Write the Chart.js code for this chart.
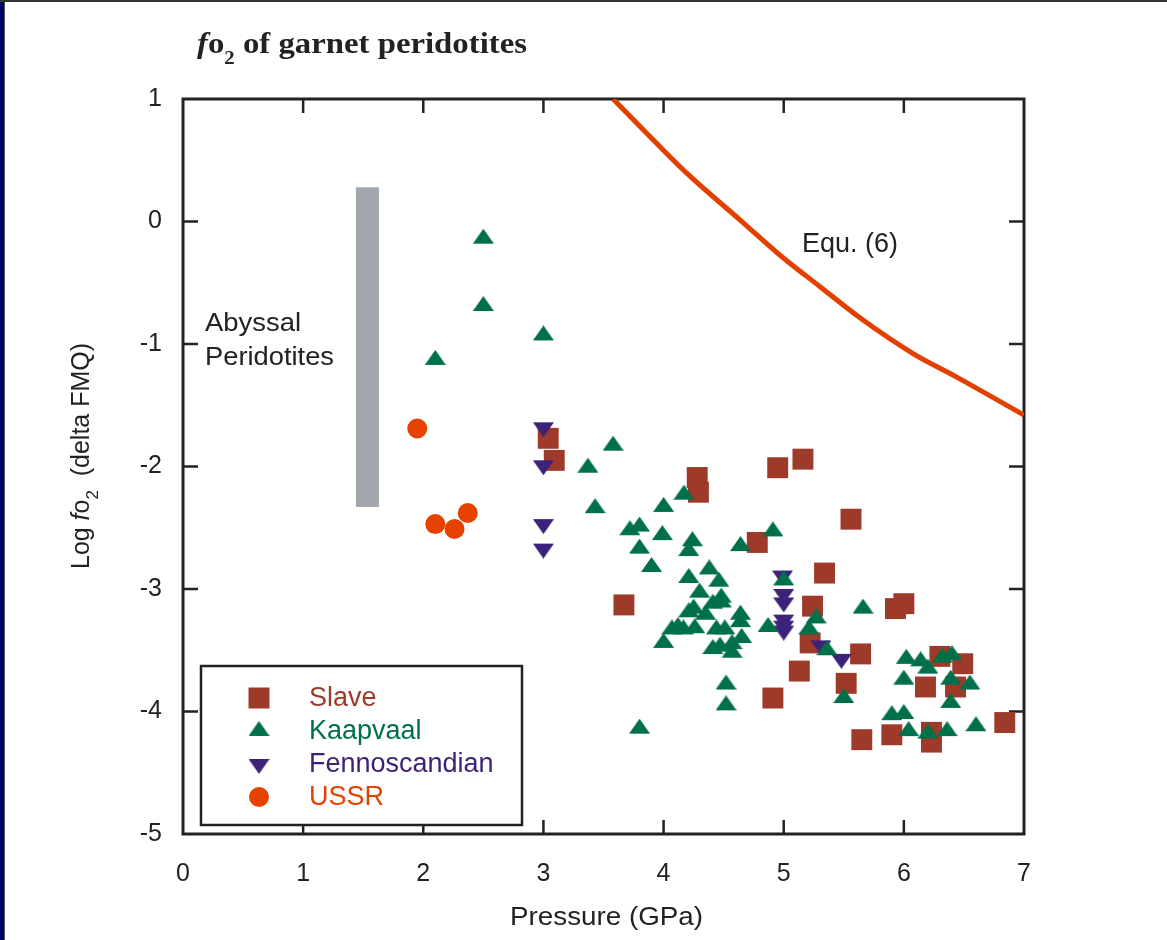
<!DOCTYPE html>
<html>
<head>
<meta charset="utf-8">
<title>fo2 of garnet peridotites</title>
<script src="https://cdn.jsdelivr.net/npm/chart.js@4.4.0/dist/chart.umd.min.js"></script>
<style>
  html, body { margin: 0; padding: 0; background: #fff; }
  canvas { display: block; }
</style>
</head>
<body>
<canvas id="fo2Chart" width="1167" height="940"></canvas>
<script>
// ========================
// DADOS
// ========================

const xTicks = [0, 1, 2, 3, 4, 5, 6, 7];
const yTicks = [1, 0, -1, -2, -3, -4, -5];

const slaveP = [3.04, 3.09, 4.28, 4.29, 4.95, 5.16, 5.56, 4.78, 5.34, 3.67, 5.24, 5.22, 5.64, 5.13,
  5.52, 4.91, 5.65, 5.93, 6.0, 5.90, 6.23, 6.23, 6.30, 6.49, 6.18, 6.43, 6.84];
const slaveLog = [-1.77, -1.95, -2.09, -2.21, -2.01, -1.94, -2.43, -2.62, -2.87, -3.13, -3.14, -3.44, -3.53, -3.67,
  -3.77, -3.89, -4.23, -3.16, -3.12, -4.19, -4.17, -4.25, -3.55, -3.61, -3.80, -3.80, -4.09];

const kaapP = [2.5, 2.5, 3.0, 2.1, 3.58, 3.37, 3.43, 4.0, 4.17, 3.72, 3.80, 3.99, 3.80, 3.90,
  4.24, 4.21, 4.64, 4.91, 4.38, 4.21, 4.46, 4.30, 4.48, 4.48, 4.41, 4.25, 4.21, 4.35,
  4.64, 4.64, 4.07, 4.12, 4.165, 4.26, 4.44, 4.51, 4.65, 4.0, 4.41, 4.47, 4.57, 4.57,
  4.87, 5.0, 5.27, 5.21, 5.66, 5.36, 5.50, 4.52, 4.52, 3.80, 6.02, 6.14, 6.20, 6.32,
  6.40, 6.00, 6.39, 6.55, 6.39, 5.90, 6.00, 6.04, 6.20, 6.36, 6.60];
const kaapLog = [-0.14, -0.69, -0.93, -1.13, -1.83, -2.01, -2.34, -2.33, -2.23, -2.52, -2.49, -2.56, -2.67, -2.82,
  -2.61, -2.69, -2.65, -2.53, -2.84, -2.91, -2.94, -3.03, -3.07, -3.11, -3.12, -3.16, -3.19, -3.21,
  -3.21, -3.27, -3.33, -3.31, -3.33, -3.32, -3.33, -3.33, -3.40, -3.44, -3.49, -3.47, -3.45, -3.52,
  -3.31, -2.93, -3.24, -3.33, -3.16, -3.50, -3.89, -3.78, -3.95, -4.14, -3.57, -3.59, -3.65, -3.56,
  -3.54, -3.74, -3.74, -3.78, -3.93, -4.03, -4.02, -4.16, -4.18, -4.16, -4.12];

const fennoP = [3.0, 3.0, 3.0, 3.0, 4.99, 5.0, 5.0, 5.0, 5.0, 5.0, 5.31, 5.48];
const fennoLog = [-1.68, -1.99, -2.47, -2.67, -2.89, -3.04, -3.11, -3.25, -3.30, -3.34, -3.46, -3.57];

const ussrP = [1.95, 2.1, 2.26, 2.37];
const ussrLog = [-1.69, -2.47, -2.51, -2.38];

// curva da Equ. (6)
const equP = [3.58, 3.96, 4.22, 4.64, 5.0, 5.30, 5.64, 6.08, 6.44, 7.0];
const equLog = [1.0, 0.62, 0.37, 0.01, -0.30, -0.53, -0.79, -1.08, -1.27, -1.58];

// faixa dos peridotitos abissais
const abyssalP = [1.535, 1.535];
const abyssalLog = [0.28, -2.33];

const seriesNames = ['Slave', 'Kaapvaal', 'Fennoscandian', 'USSR'];
const seriesColors = ['#9e3a29', '#00704a', '#3d2279', '#e54200'];

const toPoints = (xs, ys) => xs.map((x, i) => ({ x, y: ys[i] }));

const SANS = '"Liberation Sans", Arial, sans-serif';
const SERIF = '"Liberation Serif", "Times New Roman", serif';

// triângulos achatados como no original (centro = centroide)
function triangleImage(color, down) {
  const c = document.createElement('canvas');
  c.width = 21;
  c.height = 20;
  const g = c.getContext('2d');
  g.fillStyle = color;
  g.beginPath();
  if (down) {
    g.moveTo(0, 5); g.lineTo(21, 5); g.lineTo(10.5, 20);
  } else {
    g.moveTo(10.5, 0); g.lineTo(21, 15); g.lineTo(0, 15);
  }
  g.closePath();
  g.fill();
  return c;
}

const upGreen = triangleImage(seriesColors[1], false);
const downPurple = triangleImage(seriesColors[2], true);

// texto em partes (itálico / subscrito), esticado até a largura alvo
function drawRuns(ctx, parts, x, y, target) {
  let w = 0;
  parts.forEach(p => { ctx.font = p.f; w += ctx.measureText(p.t).width; });
  ctx.save();
  ctx.translate(x, y);
  if (target) ctx.scale(target / w, 1);
  let cx = 0;
  parts.forEach(p => {
    ctx.font = p.f;
    ctx.fillText(p.t, cx, p.dy || 0);
    cx += ctx.measureText(p.t).width;
  });
  ctx.restore();
}

function marker(ctx, style, x, y, color) {
  if (style === 'up') { ctx.drawImage(upGreen, x - 10.5, y - 10); return; }
  if (style === 'down') { ctx.drawImage(downPurple, x - 10.5, y - 10); return; }
  ctx.fillStyle = color;
  ctx.beginPath();
  if (style === 'rect') {
    ctx.rect(x - 10.5, y - 10.5, 21, 21);
  } else {
    ctx.arc(x, y, 10, 0, Math.PI * 2);
  }
  ctx.fill();
}

// ========================
// MOLDURA, TICKS E TEXTOS
// ========================

const framePlugin = {
  id: 'frame',
  beforeDraw(chart) {
    const { ctx, width, height } = chart;
    ctx.save();
    ctx.fillStyle = '#fff';
    ctx.fillRect(0, 0, width, height);
    ctx.fillStyle = '#000066';
    ctx.fillRect(0, 0, 4, height);
    ctx.fillStyle = '#555';
    ctx.fillRect(4, 0, 1, height);
    ctx.fillStyle = '#333';
    ctx.fillRect(0, 0, width, 2);
    ctx.restore();
  },
  beforeDatasetsDraw(chart) {
    const { ctx, chartArea: a, scales: { x, y } } = chart;
    ctx.save();
    ctx.strokeStyle = '#222';
    ctx.lineWidth = 3;
    ctx.strokeRect(a.left, a.top, a.right - a.left, a.bottom - a.top);
    ctx.lineWidth = 2.5;
    ctx.beginPath();
    xTicks.slice(1, -1).forEach(v => {
      const px = x.getPixelForValue(v);
      ctx.moveTo(px, a.top); ctx.lineTo(px, a.top + 14);
      ctx.moveTo(px, a.bottom); ctx.lineTo(px, a.bottom - 14);
    });
    yTicks.slice(1, -1).forEach(v => {
      const py = y.getPixelForValue(v);
      ctx.moveTo(a.left, py); ctx.lineTo(a.left + 15, py);
      ctx.moveTo(a.right, py); ctx.lineTo(a.right - 15, py);
    });
    ctx.stroke();
    ctx.restore();
  },
  afterDraw(chart) {
    const ctx = chart.ctx;
    ctx.save();
    ctx.fillStyle = '#222';
    ctx.textBaseline = 'alphabetic';

    // título
    drawRuns(ctx, [
      { t: 'f', f: 'italic bold 30px ' + SERIF },
      { t: 'o', f: 'bold 30px ' + SERIF },
      { t: '2', f: 'bold 19px ' + SERIF, dy: 11 },
      { t: ' of garnet peridotites', f: 'bold 30px ' + SERIF }
    ], 197, 53, 330);

    // eixo y
    ctx.save();
    ctx.translate(89, 569);
    ctx.rotate(-Math.PI / 2);
    drawRuns(ctx, [
      { t: 'Log ', f: '25px ' + SANS },
      { t: 'f', f: 'italic 25px ' + SANS },
      { t: 'o', f: '25px ' + SANS },
      { t: '2', f: '17px ' + SANS, dy: 9 },
      { t: '  (delta FMQ)', f: '25px ' + SANS }
    ], 0, 0, 226);
    ctx.restore();

    // eixo x
    drawRuns(ctx, [{ t: 'Pressure (GPa)', f: '25px ' + SANS }], 510, 925, 193);

    // anotações
    drawRuns(ctx, [{ t: 'Abyssal', f: '25px ' + SANS }], 205, 331, 96);
    drawRuns(ctx, [{ t: 'Peridotites', f: '25px ' + SANS }], 205, 365, 129);
    drawRuns(ctx, [{ t: 'Equ. (6)', f: '27px ' + SANS }], 802, 252, 96);

    // legenda
    ctx.fillStyle = '#fff';
    ctx.fillRect(201, 666, 321, 159);
    ctx.strokeStyle = '#222';
    ctx.lineWidth = 2.5;
    ctx.strokeRect(201, 666, 321, 159);
    const styles = ['rect', 'up', 'down', 'circle'];
    const rowsY = [698, 731, 764, 797];
    ctx.font = '27px ' + SANS;
    ctx.textBaseline = 'middle';
    seriesNames.forEach((name, i) => {
      marker(ctx, styles[i], 259, rowsY[i], seriesColors[i]);
      ctx.fillStyle = seriesColors[i];
      ctx.fillText(name, 309, rowsY[i] + 1);
    });
    ctx.restore();
  }
};

// ========================
// GRÁFICO
// ========================

const ctx = document.getElementById('fo2Chart');

new Chart(ctx, {
  type: 'scatter',
  data: {
    datasets: [
      {
        label: 'Abyssal Peridotites',
        data: toPoints(abyssalP, abyssalLog),
        showLine: true,
        borderColor: '#a2a7ae',
        borderWidth: 23,
        borderCapStyle: 'butt',
        pointRadius: 0,
        order: 6
      },
      {
        label: 'Equ. (6)',
        data: toPoints(equP, equLog),
        showLine: true,
        borderColor: '#e34000',
        borderWidth: 5,
        cubicInterpolationMode: 'monotone',
        pointRadius: 0,
        order: 5
      },
      {
        label: seriesNames[0],
        data: toPoints(slaveP, slaveLog),
        pointStyle: 'rect',
        pointRadius: 14.8,
        backgroundColor: seriesColors[0],
        borderWidth: 0,
        order: 4
      },
      {
        label: seriesNames[2],
        data: toPoints(fennoP, fennoLog),
        pointStyle: downPurple,
        pointRadius: 10,
        backgroundColor: seriesColors[2],
        borderWidth: 0,
        order: 3
      },
      {
        label: seriesNames[1],
        data: toPoints(kaapP, kaapLog),
        pointStyle: upGreen,
        pointRadius: 10,
        backgroundColor: seriesColors[1],
        borderWidth: 0,
        order: 2
      },
      {
        label: seriesNames[3],
        data: toPoints(ussrP, ussrLog),
        pointStyle: 'circle',
        pointRadius: 10,
        backgroundColor: seriesColors[3],
        borderWidth: 0,
        order: 1
      }
    ]
  },
  options: {
    responsive: false,
    animation: false,
    layout: {
      padding: { top: 99, right: 143, bottom: 0, left: 0 }
    },
    plugins: {
      legend: { display: false },
      tooltip: { enabled: false }
    },
    scales: {
      x: {
        type: 'linear',
        min: 0,
        max: 7,
        grid: { display: false, drawTicks: false },
        border: { display: false },
        ticks: {
          stepSize: 1,
          padding: 25,
          color: '#222',
          font: { family: SANS, size: 25 }
        },
        afterFit: s => { s.height = 106; }
      },
      y: {
        type: 'linear',
        min: -5,
        max: 1,
        grid: { display: false, drawTicks: false },
        border: { display: false },
        ticks: {
          stepSize: 1,
          padding: 21,
          color: '#222',
          font: { family: SANS, size: 25 }
        },
        afterFit: s => { s.width = 183; }
      }
    }
  },
  plugins: [framePlugin]
});
</script>
</body>
</html>
